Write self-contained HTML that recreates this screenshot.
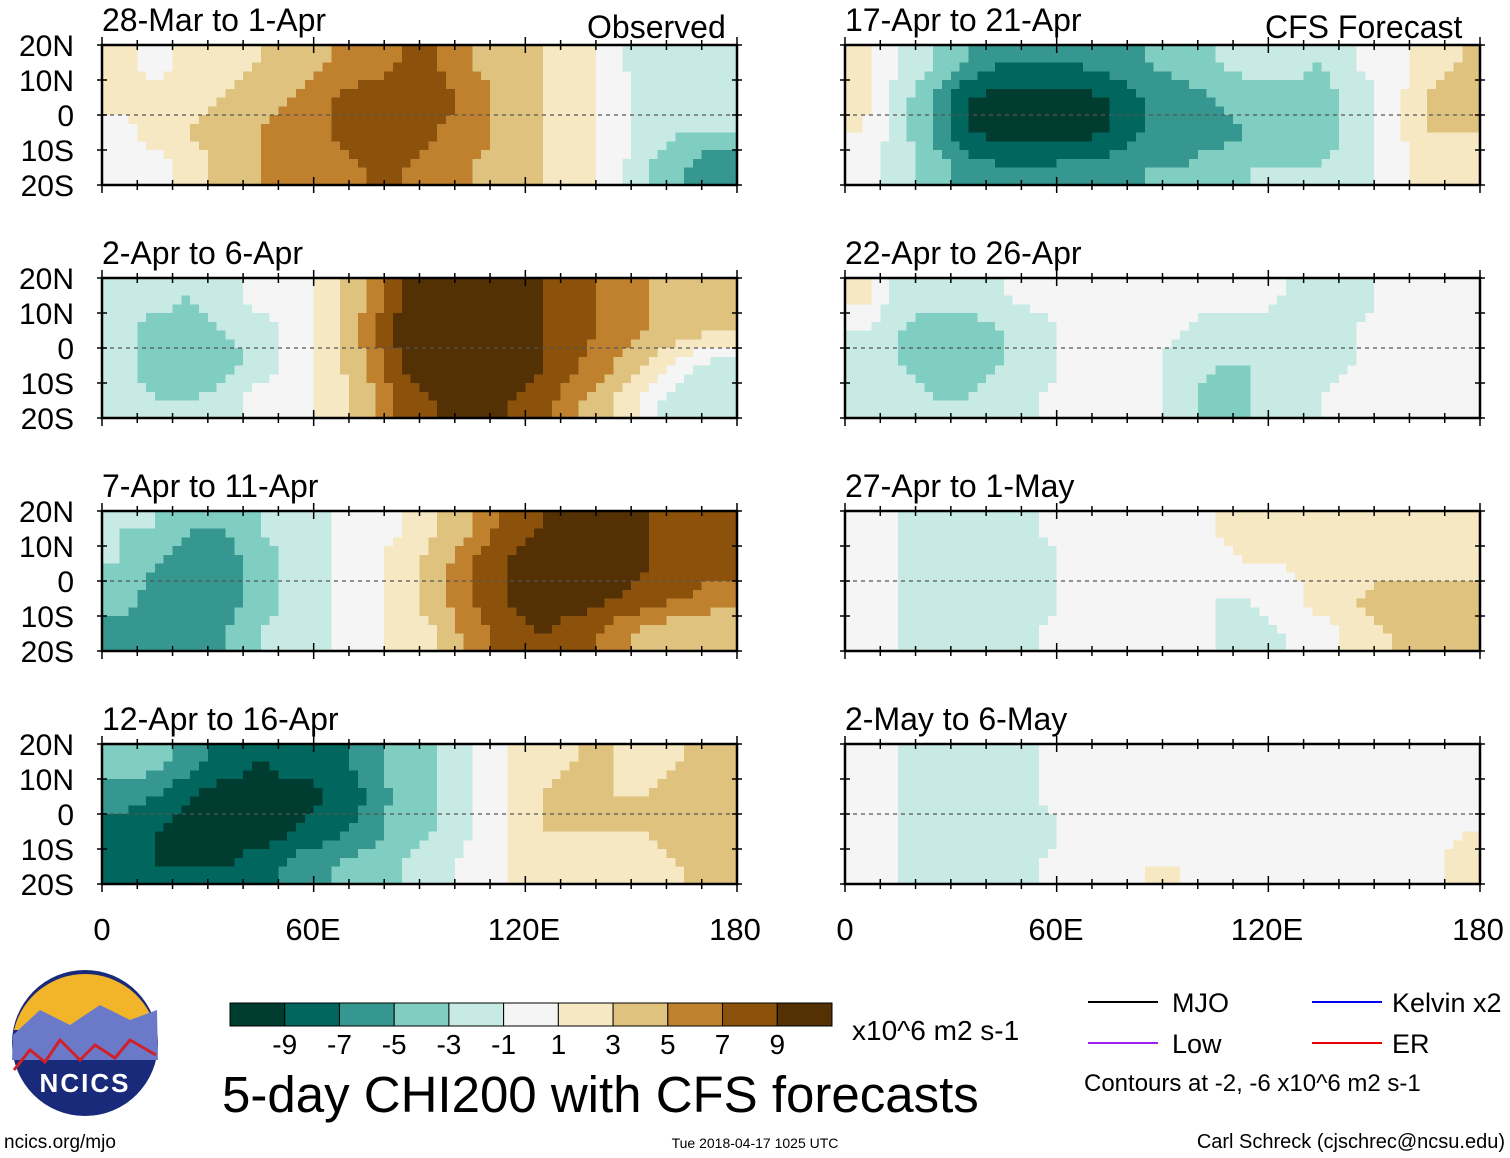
<!DOCTYPE html>
<html><head><meta charset="utf-8">
<style>
html,body{margin:0;padding:0;background:#fff;}
svg{display:block;font-family:"Liberation Sans",Arial,sans-serif;}
</style></head>
<body>
<svg id="chart" width="1510" height="1158" viewBox="0 0 1510 1158" xmlns="http://www.w3.org/2000/svg">
<g id="panels"></g>
<g font-size="31" text-anchor="middle" fill="#000">
<text x="102" y="940">0</text>
<text x="313" y="940">60E</text>
<text x="524" y="940">120E</text>
<text x="735" y="940">180</text>
<text x="845" y="940">0</text>
<text x="1056" y="940">60E</text>
<text x="1267" y="940">120E</text>
<text x="1478" y="940">180</text>
</g>
<text x="587" y="38" font-size="32">Observed</text>
<text x="1265" y="38" font-size="32">CFS Forecast</text>
<g>
<circle cx="85" cy="1043" r="73" fill="#1a2a7a"/>
<path d="M14,1030 A73,73 0 0 1 156,1030 Z" fill="#f2b52a"/>
<path d="M13,1035 L40,1010 L70,1025 L100,1005 L130,1020 L157,1010 L158,1060 L12,1060 Z" fill="#6a7ac8"/>
<path d="M14,1070 L30,1050 L45,1062 L60,1040 L80,1060 L95,1045 L115,1058 L130,1040 L156,1055" fill="none" stroke="#d0202a" stroke-width="3"/>
<text x="85" y="1092" font-size="26" font-weight="bold" fill="#fff" text-anchor="middle" letter-spacing="2">NCICS</text>
</g>
<text x="4" y="1148" font-size="19">ncics.org/mjo</text>
<g id="colorbar"></g>
<text x="852" y="1040" font-size="28">x10^6 m2 s-1</text>
<text x="222" y="1112" font-size="51">5-day CHI200 with CFS forecasts</text>
<text x="755" y="1148" font-size="14" text-anchor="middle">Tue 2018-04-17 1025 UTC</text>
<text x="1505" y="1148" font-size="20" text-anchor="end">Carl Schreck (cjschrec@ncsu.edu)</text>
<g font-size="27">
<line x1="1088" y1="1002" x2="1158" y2="1002" stroke="#000" stroke-width="2"/>
<text x="1172" y="1012">MJO</text>
<line x1="1312" y1="1002" x2="1382" y2="1002" stroke="#0000ee" stroke-width="2"/>
<text x="1392" y="1012">Kelvin x2</text>
<line x1="1088" y1="1043" x2="1158" y2="1043" stroke="#a020f0" stroke-width="2"/>
<text x="1172" y="1053">Low</text>
<line x1="1312" y1="1043" x2="1382" y2="1043" stroke="#ee0000" stroke-width="2"/>
<text x="1392" y="1053">ER</text>
<text x="1084" y="1091" font-size="24">Contours at -2, -6 x10^6 m2 s-1</text>
</g>
</svg>
<script>
const titles = ["28-Mar to 1-Apr","2-Apr to 6-Apr","7-Apr to 11-Apr","12-Apr to 16-Apr","17-Apr to 21-Apr","22-Apr to 26-Apr","27-Apr to 1-May","2-May to 6-May"];
const lons = [0,10,20,30,40,50,60,70,80,90,100,110,120,130,140,150,160,170];
const lats = [20,10,0,-10];
const p1 = [[2,0,2,2,3,4,5,6,7,7,5,4,3,2,0,-3,-3,-3],[2,2,2,3,4,5,7,8,8,8,6,4,3,2,0,-2,-3,-2],[0,2,3,4,5,6,7,8,8,7,6,4,3,2,0,-2,-3,-3],[0,0,2,4,5,6,6,7,7,6,5,4,3,2,0,-3,-5,-7]];
const p2 = [[-2,-2,-3,-2,0,0,2,5,9,10,10,10,9,8,6,5,4,4],[-2,-4,-4,-3,-2,0,2,6,10,10,10,10,9,8,6,5,4,3],[-2,-4,-5,-4,-2,0,2,5,9,10,10,10,9,7,5,3,0,-2],[-2,-3,-3,-2,0,0,2,4,8,9,10,9,8,5,3,0,-3,-3]];
const p3 = [[-3,-3,-5,-5,-3,-2,-1,0,1,3,5,8,9,10,10,9,8,8],[-3,-5,-6,-6,-4,-2,-1,0,2,4,7,9,10,10,10,9,8,8],[-4,-6,-6,-6,-4,-2,-1,0,2,4,7,9,10,10,9,8,7,6],[-6,-6,-6,-5,-3,-2,-1,0,2,3,6,8,9,8,6,4,3,3]];
const p4 = [[-4,-4,-6,-8,-9,-8,-8,-6,-4,-3,-1,1,2,3,3,2,3,4],[-6,-7,-9,-10,-10,-10,-9,-7,-4,-3,-1,1,3,4,3,3,4,5],[-8,-9,-10,-10,-10,-9,-8,-6,-4,-3,-1,1,3,3,3,3,4,4],[-8,-9,-9,-9,-8,-6,-5,-4,-3,-2,0,1,2,2,2,2,3,3]];
const p5 = [[2,-1,-3,-5,-7,-7,-7,-6,-5,-4,-3,-2,-2,-3,-1,0,2,3],[2,-2,-5,-9,-10,-10,-10,-9,-7,-6,-5,-4,-4,-4,-2,0,3,4],[1,-2,-5,-9,-10,-10,-10,-9,-7,-6,-6,-5,-4,-4,-2,0,3,3],[0,-2,-4,-6,-7,-7,-6,-6,-5,-5,-4,-3,-3,-3,-2,0,2,2]];
const p6 = [[2,-2,-2,-2,-1,0,0,0,0,0,0,0,-1,-2,-2,0,0,0],[-1,-3,-4,-4,-3,-2,0,0,0,-1,-2,-2,-2,-2,-1,0,0,0],[-2,-3,-4,-4,-3,-2,0,0,0,-2,-3,-3,-3,-2,-1,0,0,-1],[-2,-2,-3,-3,-2,-1,0,0,0,-2,-4,-3,-2,-1,0,0,0,-1]];
const p7 = [[0,-1,-2,-2,-2,-1,0,0,0,0,1,2,2,2,2,2,2,2],[0,-1,-2,-3,-3,-2,0,0,0,0,0,1,1,2,2,2,2,2],[-1,-1,-2,-3,-3,-2,0,0,1,0,-1,-1,0,2,3,4,4,4],[0,-1,-2,-2,-2,-1,0,0,1,0,-1,-2,-1,0,2,3,3,3]];
const p8 = [[0,-1,-2,-2,-2,-1,0,0,0,0,0,0,0,0,0,0,0,0],[0,-1,-2,-3,-2,-1,0,0,0,0,0,0,0,0,0,0,0,0],[0,-1,-2,-3,-3,-2,0,0,0,0,0,0,0,0,0,0,0,1],[0,-1,-2,-2,-2,-1,0,0,1,1,0,0,0,0,0,0,0,2]];
const panelData = [p1,p2,p3,p4,p5,p6,p7,p8];
const levels = [-9,-7,-5,-3,-1,1,3,5,7,9];
const levelLabels = ["-9","-7","-5","-3","-1","1","3","5","7","9"];
const ylabels = ["20N","10N","0","10S","20S"];

const colors = ["#003c30","#01665e","#35978f","#80cdc1","#c7eae5","#f5f5f5","#f6e8c3","#dfc27d","#bf812d","#8c510a","#543005"];
function colorFor(v){let i=0;while(i<levels.length&&v>=levels[i])i++;return colors[i];}
const NS="http://www.w3.org/2000/svg";
function mk(tag,attrs,parent){const e=document.createElementNS(NS,tag);for(const k in attrs)e.setAttribute(k,attrs[k]);parent.appendChild(e);return e;}
function sample(data,lon,lat){
  let fi=(lon-lons[0]-5)/10; fi=Math.max(0,Math.min(lons.length-1,fi));
  let fr=(lats[0]-5-lat)/10; fr=Math.max(0,Math.min(lats.length-1,fr));
  const i0=Math.floor(fi), i1=Math.min(lons.length-1,i0+1), tx=fi-i0;
  const r0=Math.floor(fr), r1=Math.min(lats.length-1,r0+1), ty=fr-r0;
  const a=data[r0][i0]*(1-tx)+data[r0][i1]*tx;
  const b=data[r1][i0]*(1-tx)+data[r1][i1]*tx;
  return a*(1-ty)+b*ty;
}

const panelsG=document.getElementById('panels');
const PW=635, PH=140;
const xs=[102,845], ys=[45,278,511,744];
const STEP=2.5;
panelData.forEach((data,pi)=>{
  const col=pi<4?0:1, row=pi%4;
  const x0=xs[col], y0=ys[row];
  const xScale=lon=>x0+lon/180*PW;
  const yScale=lat=>y0+(20-lat)/40*PH;
  const g=mk('g',{},panelsG);
  
  
  const cg=mk('g',{'shape-rendering':'crispEdges'},g);
  for(let lon=0;lon<180;lon+=STEP){
    for(let lat=20;lat>-20;lat-=STEP){
      const v=sample(data,lon+STEP/2,lat-STEP/2);
      const xa=xScale(lon), xb=xScale(lon+STEP), ya=yScale(lat), yb=yScale(lat-STEP);
      const r=mk('rect',{x:xa,y:ya,width:xb-xa+0.6,height:yb-ya+0.6,fill:colorFor(v)},cg);
      
      
    }
  }
  const eq=mk('line',{x1:x0,x2:x0+PW,y1:yScale(0),y2:yScale(0),stroke:'#555','stroke-width':1.2,'stroke-dasharray':'4,4'},g);
  
  
  const fr=mk('rect',{x:x0,y:y0,width:PW,height:PH,fill:'none',stroke:'#000','stroke-width':2.5},g);
  
  
  for(let lon=0;lon<=180;lon+=10){
    const x=xScale(lon), len=(lon%60===0)?8:5;
    mk('line',{x1:x,x2:x,y1:y0-len,y2:y0+len,stroke:'#000','stroke-width':1.5},g);
    mk('line',{x1:x,x2:x,y1:y0+PH-len,y2:y0+PH+len,stroke:'#000','stroke-width':1.5},g);
  }
  for(let lat=20;lat>=-20;lat-=10){
    const y=yScale(lat);
    mk('line',{x1:x0-5,x2:x0+5,y1:y,y2:y,stroke:'#000','stroke-width':1.5},g);
    mk('line',{x1:x0+PW-5,x2:x0+PW+5,y1:y,y2:y,stroke:'#000','stroke-width':1.5},g);
  }
  const t=mk('text',{x:x0,y:y0-14,'font-size':32},g);
  t.textContent=titles[pi];
  
  
  if(col===0){
    ylabels.forEach((lb,li)=>{
      const yt=mk('text',{x:74,y:y0+li*PH/4+11,'font-size':30,'text-anchor':'end'},g);
      yt.textContent=lb;
      
      
    });
  }
});

const cb=document.getElementById('colorbar');
const cbx=230, cbw=602, cby=1003, cbh=23, bw=cbw/colors.length;
colors.forEach((c,i)=>{
  const r=mk('rect',{x:cbx+i*bw,y:cby,width:bw,height:cbh,fill:c,stroke:'#000','stroke-width':1},cb);
  
  
});
levelLabels.forEach((lb,i)=>{
  const t=mk('text',{x:cbx+(i+1)*bw,y:1054,'font-size':28,'text-anchor':'middle'},cb);
  t.textContent=lb;
  
  
});
</script>
</body></html>
